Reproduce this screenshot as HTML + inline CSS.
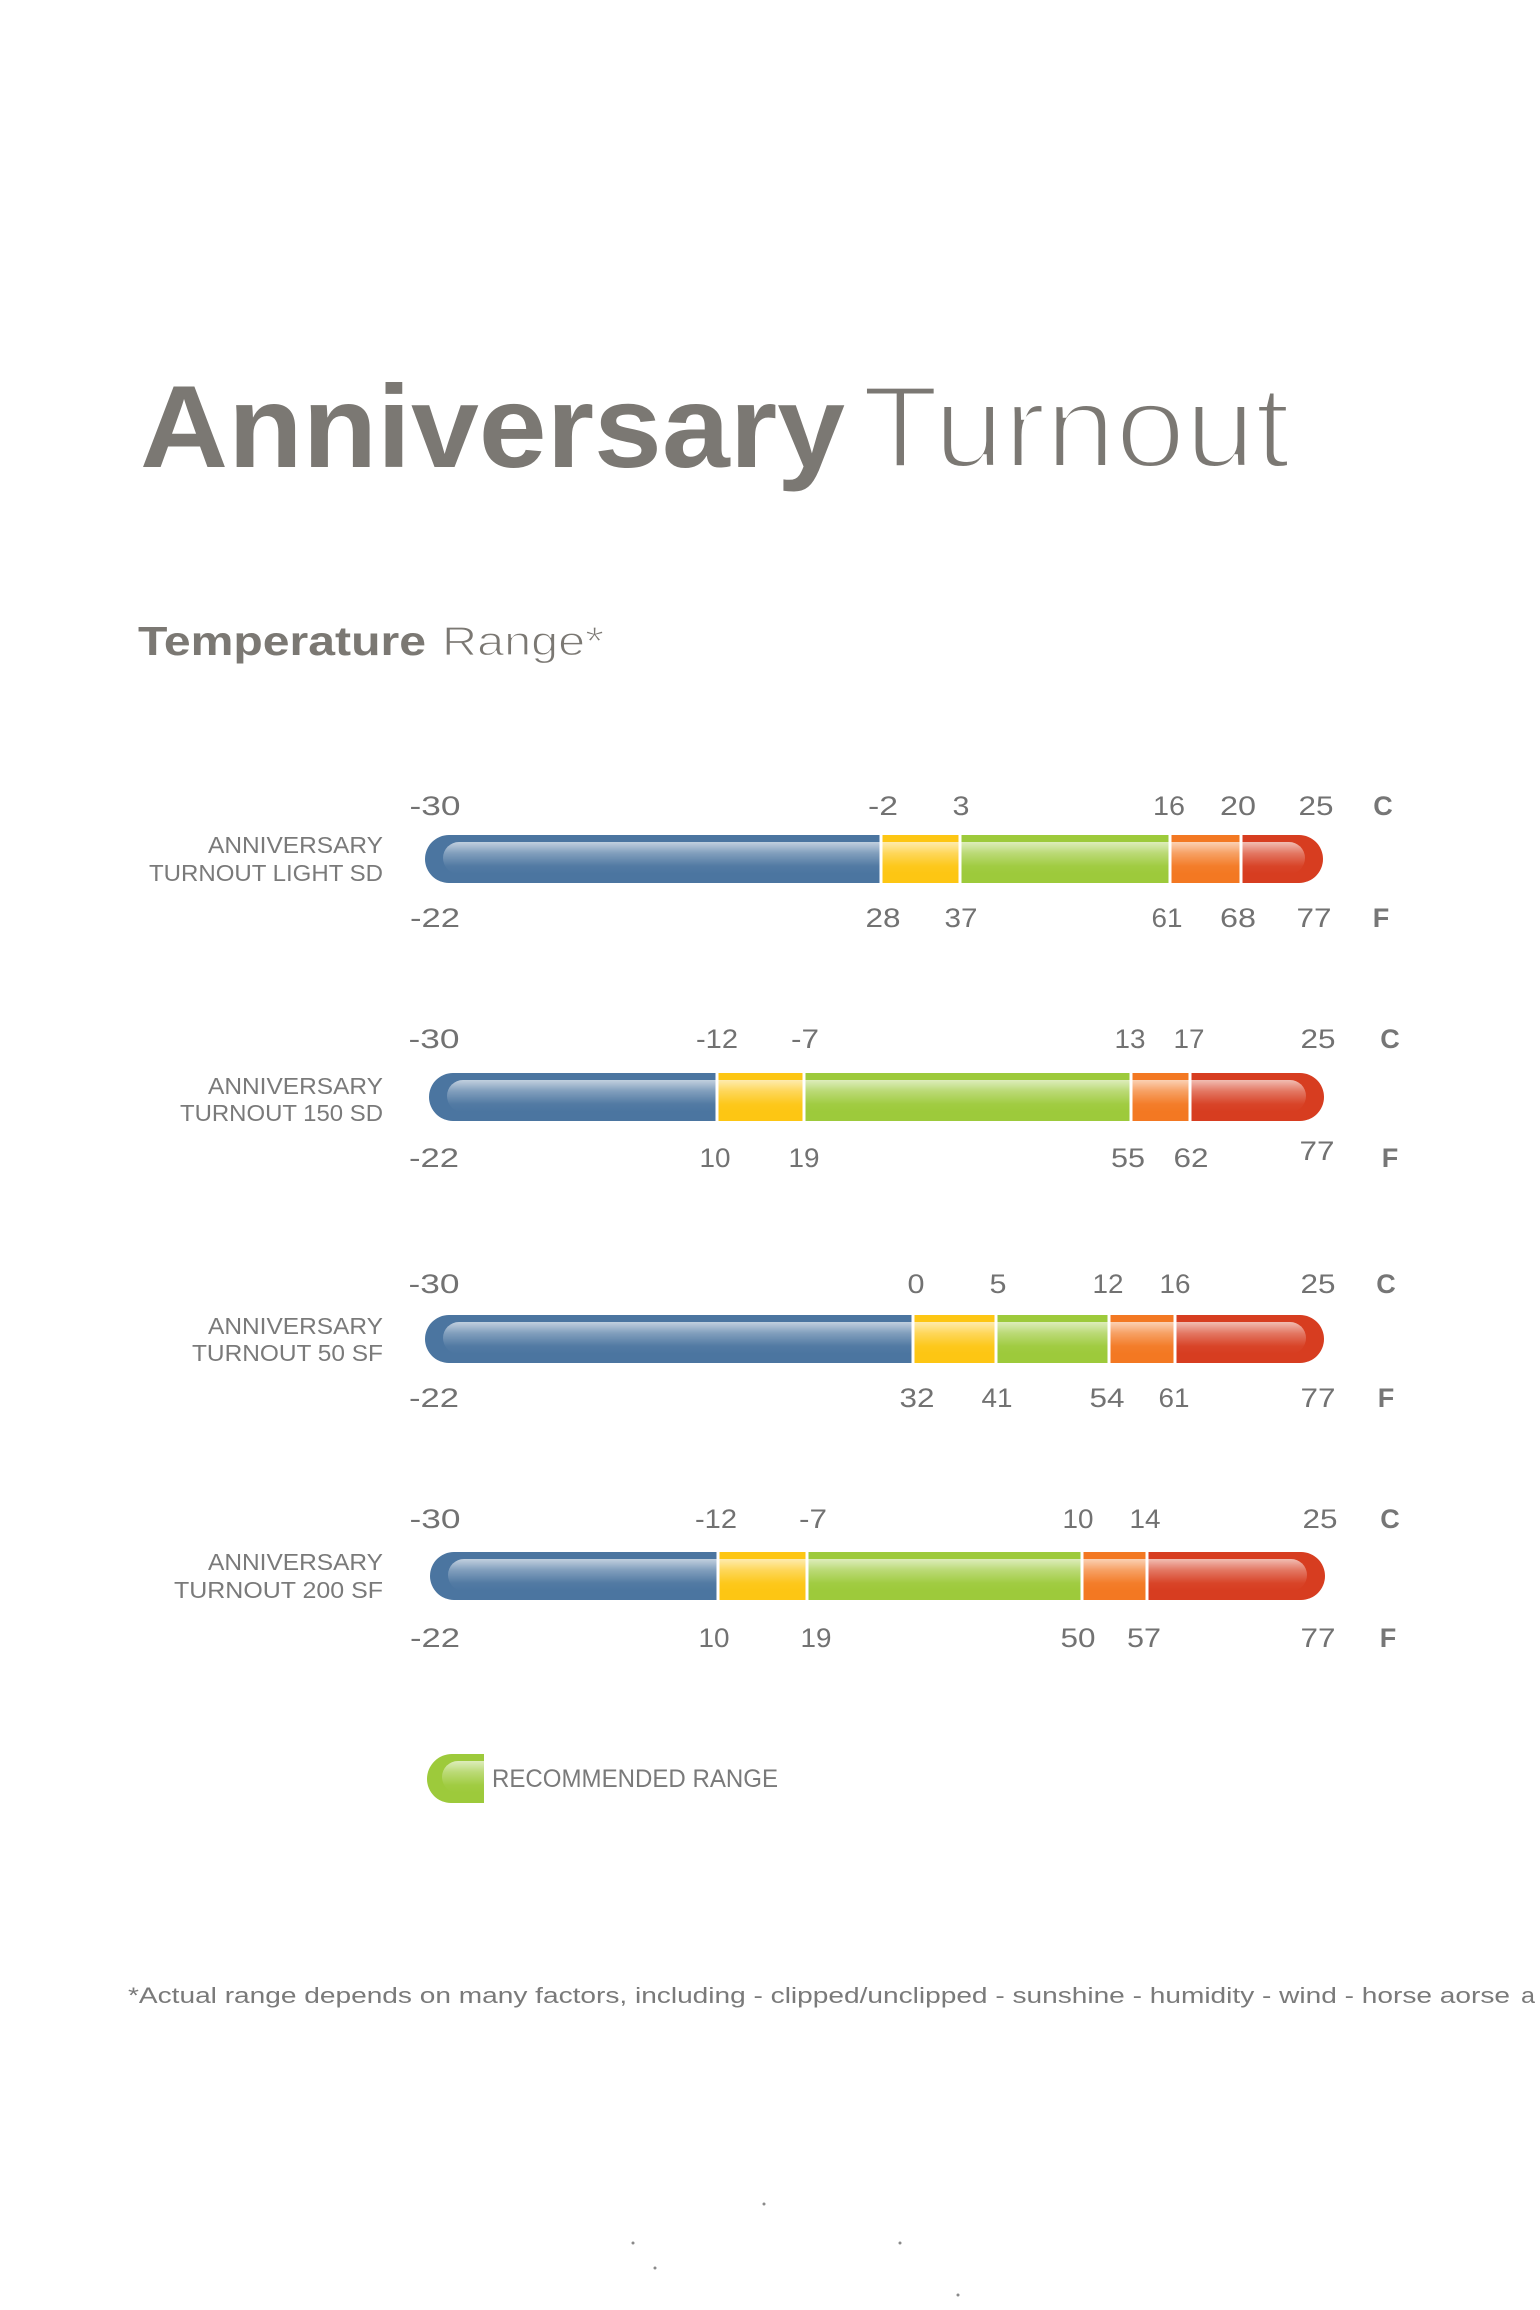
<!DOCTYPE html>
<html>
<head>
<meta charset="utf-8">
<style>
html,body{margin:0;padding:0;background:#ffffff;}
body{width:1540px;height:2310px;overflow:hidden;}
svg{display:block;}
text{font-family:"Liberation Sans",sans-serif;}
.n{font-size:27px;fill:#727272;text-anchor:middle;}
.u{font-size:27px;fill:#767676;font-weight:bold;text-anchor:middle;}
.lb{font-size:23px;fill:#7a7a7a;text-anchor:end;}
</style>
</head>
<body>
<svg width="1540" height="2310" viewBox="0 0 1540 2310" xmlns="http://www.w3.org/2000/svg">
<defs>
  <linearGradient id="gloss" x1="0" y1="0" x2="0" y2="1">
    <stop offset="0" stop-color="#ffffff" stop-opacity="0.66"/>
    <stop offset="0.35" stop-color="#ffffff" stop-opacity="0.3"/>
    <stop offset="0.75" stop-color="#ffffff" stop-opacity="0.04"/>
    <stop offset="1" stop-color="#ffffff" stop-opacity="0"/>
  </linearGradient>
  <clipPath id="c1"><rect x="425" y="835" width="898" height="48" rx="24"/></clipPath>
  <clipPath id="c2"><rect x="429" y="1073" width="895" height="48" rx="24"/></clipPath>
  <clipPath id="c3"><rect x="425" y="1315" width="899" height="48" rx="24"/></clipPath>
  <clipPath id="c4"><rect x="430" y="1552" width="895" height="48" rx="24"/></clipPath>
  <clipPath id="cl"><path d="M484,1754 L452,1754 A25,25 0 0 0 427,1779 A24,24 0 0 0 451,1803 L484,1803 Z"/></clipPath>
  <clipPath id="page"><rect x="0" y="0" width="1540" height="2310"/></clipPath>
</defs>

<!-- Title -->
<text x="140" y="467" font-size="117" font-weight="bold" fill="#7b7873" textLength="705" lengthAdjust="spacingAndGlyphs">Anniversary</text>
<text x="862" y="467" font-size="117" fill="#7b7873" stroke="#ffffff" stroke-width="4" textLength="428" lengthAdjust="spacingAndGlyphs">Turnout</text>

<text x="138" y="655" font-size="41" font-weight="bold" fill="#7b7873" textLength="288" lengthAdjust="spacingAndGlyphs">Temperature</text>
<text x="442" y="655" font-size="41" fill="#7b7873" stroke="#ffffff" stroke-width="1.2" textLength="162" lengthAdjust="spacingAndGlyphs">Range*</text>

<!-- Row 1 -->
<text class="lb" x="383" y="853" textLength="175" lengthAdjust="spacingAndGlyphs">ANNIVERSARY</text>
<text class="lb" x="383" y="881" textLength="234" lengthAdjust="spacingAndGlyphs">TURNOUT LIGHT SD</text>
<g clip-path="url(#c1)">
  <rect x="425" y="835" width="456" height="48" fill="#4b75a0"/>
  <rect x="881" y="835" width="79" height="48" fill="#fdc613"/>
  <rect x="960" y="835" width="210" height="48" fill="#9dca3b"/>
  <rect x="1170" y="835" width="71" height="48" fill="#f37822"/>
  <rect x="1241" y="835" width="90" height="48" fill="#d73d20"/>
  <rect x="879.5" y="835" width="3" height="48" fill="#fff"/>
  <rect x="958.5" y="835" width="3" height="48" fill="#fff"/>
  <rect x="1168.5" y="835" width="3" height="48" fill="#fff"/>
  <rect x="1239.5" y="835" width="3" height="48" fill="#fff"/>
  <rect x="443" y="842" width="862" height="32" rx="16" fill="url(#gloss)"/>
</g>
<text class="n" x="435" y="815" textLength="51" lengthAdjust="spacingAndGlyphs">-30</text>
<text class="n" x="883" y="815" textLength="30" lengthAdjust="spacingAndGlyphs">-2</text>
<text class="n" x="961" y="815" textLength="17" lengthAdjust="spacingAndGlyphs">3</text>
<text class="n" x="1169" y="815" textLength="32" lengthAdjust="spacingAndGlyphs">16</text>
<text class="n" x="1238" y="815" textLength="36" lengthAdjust="spacingAndGlyphs">20</text>
<text class="n" x="1316" y="815" textLength="35" lengthAdjust="spacingAndGlyphs">25</text>
<text class="u" x="1383" y="815">C</text>
<text class="n" x="435" y="927" textLength="50" lengthAdjust="spacingAndGlyphs">-22</text>
<text class="n" x="883" y="927" textLength="35" lengthAdjust="spacingAndGlyphs">28</text>
<text class="n" x="961" y="927" textLength="33" lengthAdjust="spacingAndGlyphs">37</text>
<text class="n" x="1167" y="927" textLength="31" lengthAdjust="spacingAndGlyphs">61</text>
<text class="n" x="1238" y="927" textLength="36" lengthAdjust="spacingAndGlyphs">68</text>
<text class="n" x="1314" y="927" textLength="35" lengthAdjust="spacingAndGlyphs">77</text>
<text class="u" x="1381" y="927">F</text>

<!-- Row 2 -->
<text class="lb" x="383" y="1094" textLength="175" lengthAdjust="spacingAndGlyphs">ANNIVERSARY</text>
<text class="lb" x="383" y="1121" textLength="203" lengthAdjust="spacingAndGlyphs">TURNOUT 150 SD</text>
<g clip-path="url(#c2)">
  <rect x="429" y="1073" width="288" height="48" fill="#4b75a0"/>
  <rect x="717" y="1073" width="87" height="48" fill="#fdc613"/>
  <rect x="804" y="1073" width="327" height="48" fill="#9dca3b"/>
  <rect x="1131" y="1073" width="59" height="48" fill="#f37822"/>
  <rect x="1190" y="1073" width="140" height="48" fill="#d73d20"/>
  <rect x="715.5" y="1073" width="3" height="48" fill="#fff"/>
  <rect x="802.5" y="1073" width="3" height="48" fill="#fff"/>
  <rect x="1129.5" y="1073" width="3" height="48" fill="#fff"/>
  <rect x="1188.5" y="1073" width="3" height="48" fill="#fff"/>
  <rect x="447" y="1080" width="859" height="32" rx="16" fill="url(#gloss)"/>
</g>
<text class="n" x="434" y="1048" textLength="51" lengthAdjust="spacingAndGlyphs">-30</text>
<text class="n" x="717" y="1048" textLength="42" lengthAdjust="spacingAndGlyphs">-12</text>
<text class="n" x="805" y="1048" textLength="28" lengthAdjust="spacingAndGlyphs">-7</text>
<text class="n" x="1130" y="1048" textLength="31" lengthAdjust="spacingAndGlyphs">13</text>
<text class="n" x="1189" y="1048" textLength="31" lengthAdjust="spacingAndGlyphs">17</text>
<text class="n" x="1318" y="1048" textLength="35" lengthAdjust="spacingAndGlyphs">25</text>
<text class="u" x="1390" y="1048">C</text>
<text class="n" x="434" y="1167" textLength="50" lengthAdjust="spacingAndGlyphs">-22</text>
<text class="n" x="715" y="1167" textLength="31" lengthAdjust="spacingAndGlyphs">10</text>
<text class="n" x="804" y="1167" textLength="31" lengthAdjust="spacingAndGlyphs">19</text>
<text class="n" x="1128" y="1167" textLength="34" lengthAdjust="spacingAndGlyphs">55</text>
<text class="n" x="1191" y="1167" textLength="35" lengthAdjust="spacingAndGlyphs">62</text>
<text class="n" x="1317" y="1160" textLength="35" lengthAdjust="spacingAndGlyphs">77</text>
<text class="u" x="1390" y="1167">F</text>

<!-- Row 3 -->
<text class="lb" x="383" y="1334" textLength="175" lengthAdjust="spacingAndGlyphs">ANNIVERSARY</text>
<text class="lb" x="383" y="1361" textLength="191" lengthAdjust="spacingAndGlyphs">TURNOUT 50 SF</text>
<g clip-path="url(#c3)">
  <rect x="425" y="1315" width="488" height="48" fill="#4b75a0"/>
  <rect x="913" y="1315" width="83" height="48" fill="#fdc613"/>
  <rect x="996" y="1315" width="113" height="48" fill="#9dca3b"/>
  <rect x="1109" y="1315" width="66" height="48" fill="#f37822"/>
  <rect x="1175" y="1315" width="155" height="48" fill="#d73d20"/>
  <rect x="911.5" y="1315" width="3" height="48" fill="#fff"/>
  <rect x="994.5" y="1315" width="3" height="48" fill="#fff"/>
  <rect x="1107.5" y="1315" width="3" height="48" fill="#fff"/>
  <rect x="1173.5" y="1315" width="3" height="48" fill="#fff"/>
  <rect x="443" y="1322" width="863" height="32" rx="16" fill="url(#gloss)"/>
</g>
<text class="n" x="434" y="1293" textLength="51" lengthAdjust="spacingAndGlyphs">-30</text>
<text class="n" x="916" y="1293" textLength="17" lengthAdjust="spacingAndGlyphs">0</text>
<text class="n" x="998" y="1293" textLength="17" lengthAdjust="spacingAndGlyphs">5</text>
<text class="n" x="1108" y="1293" textLength="31" lengthAdjust="spacingAndGlyphs">12</text>
<text class="n" x="1175" y="1293" textLength="31" lengthAdjust="spacingAndGlyphs">16</text>
<text class="n" x="1318" y="1293" textLength="35" lengthAdjust="spacingAndGlyphs">25</text>
<text class="u" x="1386" y="1293">C</text>
<text class="n" x="434" y="1407" textLength="50" lengthAdjust="spacingAndGlyphs">-22</text>
<text class="n" x="917" y="1407" textLength="35" lengthAdjust="spacingAndGlyphs">32</text>
<text class="n" x="997" y="1407" textLength="31" lengthAdjust="spacingAndGlyphs">41</text>
<text class="n" x="1107" y="1407" textLength="35" lengthAdjust="spacingAndGlyphs">54</text>
<text class="n" x="1174" y="1407" textLength="31" lengthAdjust="spacingAndGlyphs">61</text>
<text class="n" x="1318" y="1407" textLength="35" lengthAdjust="spacingAndGlyphs">77</text>
<text class="u" x="1386" y="1407">F</text>

<!-- Row 4 -->
<text class="lb" x="383" y="1570" textLength="175" lengthAdjust="spacingAndGlyphs">ANNIVERSARY</text>
<text class="lb" x="383" y="1598" textLength="209" lengthAdjust="spacingAndGlyphs">TURNOUT 200 SF</text>
<g clip-path="url(#c4)">
  <rect x="430" y="1552" width="288" height="48" fill="#4b75a0"/>
  <rect x="718" y="1552" width="89" height="48" fill="#fdc613"/>
  <rect x="807" y="1552" width="275" height="48" fill="#9dca3b"/>
  <rect x="1082" y="1552" width="65" height="48" fill="#f37822"/>
  <rect x="1147" y="1552" width="185" height="48" fill="#d73d20"/>
  <rect x="716.5" y="1552" width="3" height="48" fill="#fff"/>
  <rect x="805.5" y="1552" width="3" height="48" fill="#fff"/>
  <rect x="1080.5" y="1552" width="3" height="48" fill="#fff"/>
  <rect x="1145.5" y="1552" width="3" height="48" fill="#fff"/>
  <rect x="448" y="1559" width="859" height="32" rx="16" fill="url(#gloss)"/>
</g>
<text class="n" x="435" y="1528" textLength="51" lengthAdjust="spacingAndGlyphs">-30</text>
<text class="n" x="716" y="1528" textLength="42" lengthAdjust="spacingAndGlyphs">-12</text>
<text class="n" x="813" y="1528" textLength="28" lengthAdjust="spacingAndGlyphs">-7</text>
<text class="n" x="1078" y="1528" textLength="31" lengthAdjust="spacingAndGlyphs">10</text>
<text class="n" x="1145" y="1528" textLength="31" lengthAdjust="spacingAndGlyphs">14</text>
<text class="n" x="1320" y="1528" textLength="35" lengthAdjust="spacingAndGlyphs">25</text>
<text class="u" x="1390" y="1528">C</text>
<text class="n" x="435" y="1647" textLength="50" lengthAdjust="spacingAndGlyphs">-22</text>
<text class="n" x="714" y="1647" textLength="31" lengthAdjust="spacingAndGlyphs">10</text>
<text class="n" x="816" y="1647" textLength="31" lengthAdjust="spacingAndGlyphs">19</text>
<text class="n" x="1078" y="1647" textLength="35" lengthAdjust="spacingAndGlyphs">50</text>
<text class="n" x="1144" y="1647" textLength="34" lengthAdjust="spacingAndGlyphs">57</text>
<text class="n" x="1318" y="1647" textLength="35" lengthAdjust="spacingAndGlyphs">77</text>
<text class="u" x="1388" y="1647">F</text>

<!-- Legend -->
<g clip-path="url(#cl)">
  <rect x="427" y="1754" width="57" height="49" fill="#9dca3b"/>
  <rect x="442" y="1761" width="60" height="32" rx="16" fill="url(#gloss)"/>
</g>
<text x="492" y="1787" font-size="25" fill="#7a7a7a" textLength="286" lengthAdjust="spacingAndGlyphs">RECOMMENDED RANGE</text>

<!-- Footnote -->
<g clip-path="url(#page)">
<text x="128" y="2003" font-size="22" fill="#7a7a7a" textLength="1382" lengthAdjust="spacingAndGlyphs">*Actual range depends on many factors, including - clipped/unclipped - sunshine - humidity - wind - horse aorse</text>
<text x="1521" y="2003" font-size="22" fill="#7a7a7a" textLength="14" lengthAdjust="spacingAndGlyphs">a</text>
</g>

<!-- faint dots -->
<circle cx="633" cy="2243" r="1.5" fill="#8a8a8a"/>
<circle cx="655" cy="2268" r="1.5" fill="#8a8a8a"/>
<circle cx="764" cy="2204" r="1.5" fill="#8a8a8a"/>
<circle cx="900" cy="2243" r="1.5" fill="#8a8a8a"/>
<circle cx="958" cy="2295" r="1.5" fill="#8a8a8a"/>
</svg>
</body>
</html>
